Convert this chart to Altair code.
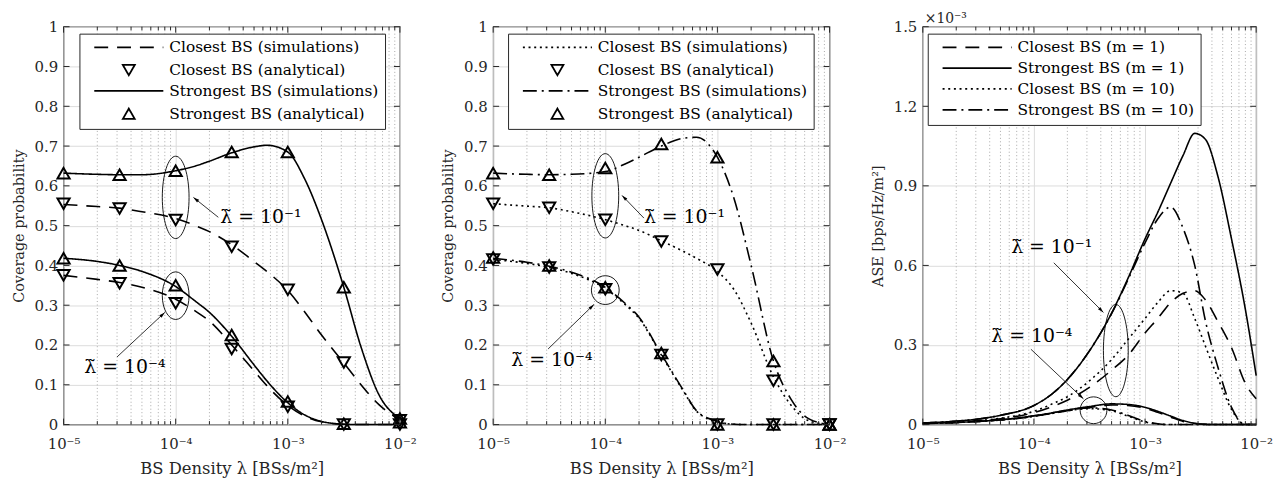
import math
import altair as alt
import pandas as pd

FONT = "DejaVu Serif"
INK = "#262626"
W12, W3, H = 339, 336, 401

# ---------------- axes ----------------
X_TICKS = [1e-5, 1e-4, 1e-3, 1e-2]
X_MINOR = [2e-5, 3e-5, 4e-5, 5e-5, 6e-5, 7e-5, 8e-5, 9e-5,
           2e-4, 3e-4, 4e-4, 5e-4, 6e-4, 7e-4, 8e-4, 9e-4,
           2e-3, 3e-3, 4e-3, 5e-3, 6e-3, 7e-3, 8e-3, 9e-3]
Y12_TICKS = [0, 0.1, 0.2, 0.3, 0.4, 0.5, 0.6, 0.7, 0.8, 0.9, 1.0]
Y3_TICKS = [0, 0.3, 0.6, 0.9, 1.2, 1.5]

# ---------------- panel 1 & 2 data (coverage probability) ----------------
X_SIM = [1e-5, 2e-5, 3.16e-5, 5e-5, 1e-4, 1.5e-4, 2e-4, 3.16e-4, 5e-4, 6.5e-4,
         1e-3, 1.4e-3, 2e-3, 3.16e-3, 4.5e-3, 6.5e-3, 1e-2]
X_MARK = [1e-5, 3.16e-5, 1e-4, 3.16e-4, 1e-3, 3.16e-3, 1e-2]

P1_SS_HI_SIM = [.632, .629, .628, .628, .638, .650, .662, .683, .698, .702, .685, .62, .515, .345, .195, .075, .015]
P1_CS_HI_SIM = [.553, .548, .544, .535, .518, .50, .485, .452, .41, .385, .337, .285, .225, .155, .10, .05, .012]
P1_SS_LO_SIM = [.418, .41, .40, .385, .347, .31, .282, .222, .15, .11, .055, .025, .008, .001, 0, 0, 0]
P1_CS_LO_SIM = [.375, .365, .357, .345, .315, .285, .26, .20, .135, .098, .048, .022, .007, .001, 0, 0, 0]
P1_SS_HI_AN = [.632, .628, .638, .685, .685, .345, .015]
P1_CS_HI_AN = [.555, .543, .514, .447, .339, .156, .011]
P1_SS_LO_AN = [.418, .400, .350, .225, .058, .002, .006]
P1_CS_LO_AN = [.375, .355, .305, .190, .045, .000, .000]

P2_SS_HI_SIM = [.632, .629, .628, .629, .636, .655, .672, .70, .72, .722, .672, .57, .40, .16, .065, .015, 0]
P2_CS_HI_SIM = [.555, .549, .545, .535, .515, .50, .488, .462, .435, .418, .385, .34, .255, .12, .05, .01, 0]
P2_SS_LO_SIM = [.418, .408, .398, .383, .345, .305, .27, .177, .085, .035, .008, .001, 0, 0, 0, 0, 0]
P2_CS_LO_SIM = [.415, .405, .395, .38, .342, .302, .267, .175, .083, .034, .007, .001, 0, 0, 0, 0, 0]
P2_SS_HI_AN = [.632, .628, .645, .705, .672, .16, .0]
P2_CS_HI_AN = [.555, .545, .515, .46, .39, .11, .0]
P2_SS_LO_AN = [.42, .40, .345, .18, .0, .0, .0]
P2_CS_LO_AN = [.415, .395, .34, .175, .0, .0, .0]

# ---------------- panel 3 data (ASE, x 1e-3) ----------------
X3 = [1e-5, 2e-5, 3.16e-5, 5e-5, 1e-4, 1.5e-4, 2e-4, 3.16e-4, 5e-4, 7e-4,
      1e-3, 1.3e-3, 1.7e-3, 2.2e-3, 2.8e-3, 3.5e-3, 4.5e-3, 6e-3, 8e-3, 1e-2]
P3_SS1_HI = [.006, .013, .021, .035, .072, .12, .17, .278, .42, .55, .70, .80, .91, 1.015, 1.098, 1.075, .94, .70, .434, .185]
P3_SS10_HI = [.006, .013, .021, .035, .072, .12, .17, .278, .418, .545, .685, .775, .82, .74, .60, .39, .22, .065, 0, 0]
P3_CS1_HI = [.004, .009, .014, .022, .045, .07, .092, .14, .205, .26, .345, .40, .46, .495, .505, .47, .39, .29, .155, .097]
P3_CS10_HI = [.004, .009, .015, .024, .05, .08, .105, .165, .245, .32, .40, .46, .505, .495, .40, .295, .178, .057, 0, 0]
P3_SS1_LO = [.004, .008, .012, .018, .033, .045, .055, .068, .078, .076, .065, .05, .032, .015, .005, .001, 0, 0, 0, 0]
P3_CS1_LO = [.004, .008, .012, .017, .031, .043, .052, .065, .074, .072, .062, .046, .028, .012, .004, .001, 0, 0, 0, 0]
P3_SS10_LO = [.004, .008, .012, .018, .033, .045, .054, .063, .055, .035, .012, .003, 0, 0, 0, 0, 0, 0, 0, 0]
P3_CS10_LO = [.004, .008, .012, .017, .031, .043, .052, .060, .052, .032, .010, .002, 0, 0, 0, 0, 0, 0, 0, 0]

# ---------------- legends ----------------
LEG12 = ["Closest BS (simulations)", "Closest BS (analytical)",
         "Strongest BS (simulations)", "Strongest BS (analytical)"]
LEG3 = ["Closest BS (m = 1)", "Strongest BS (m = 1)",
        "Closest BS (m = 10)", "Strongest BS (m = 10)"]
DASHED, SOLID, DOTTED, DASHDOT = [14, 9], [1, 0], [2, 3.7], [14, 5, 2, 5]
LINE_PATH = "M-5.8,0L5.8,0"

# ---------------- annotations ----------------
LAB_HI, LAB_LO = "λ̃ = 10⁻¹", "λ̃ = 10⁻⁴"
P1_TEXT = {"x": [2.5e-4, 1.53e-5], "y": [.521, .145], "t": [LAB_HI, LAB_LO]}
P2_TEXT = {"x": [2.21e-4, 1.45e-5], "y": [.521, .162], "t": [LAB_HI, LAB_LO]}
P3_TEXT = {"x": [6.24e-5, 4.13e-5], "y": [.670, .333], "t": [LAB_HI, LAB_LO]}
P1_ARROW = {"x1": [2.40e-4, 3.0e-5], "y1": [.521, .170], "x2": [1.44e-4, 8.0e-5], "y2": [.571, .282]}
P2_ARROW = {"x1": [2.21e-4, 3.09e-5], "y1": [.519, .190], "x2": [1.41e-4, 7.93e-5], "y2": [.576, .302]}
P3_ARROW = {"x1": [1.51e-4, 9.4e-5], "y1": [.610, .284], "x2": [4.22e-4, 2.79e-4], "y2": [.423, .097]}
# ellipse centre x, centre y, width/height ratio, height in px
P1_ELL = [(1e-4, .571, 27 / 83, 83), (1e-4, .324, 27 / 48, 48)]
P2_ELL = [(1e-4, .575, 27 / 85, 85), (1e-4, .338, 28 / 29, 29)]
P3_ELL = [(5.46e-4, .279, 25 / 93, 93), (3.44e-4, .054, 1.0, 27)]

ARROW_HEAD = "M0,0L-0.6,2.2L0.6,2.2Z"


def x_label_expr():
    return ("datum.value < 3e-5 ? '10⁻⁵' : datum.value < 3e-4 ? '10⁻⁴' : "
            "datum.value < 3e-3 ? '10⁻³' : '10⁻²'")


def long_lines(x, curves):
    rows = []
    for series, group, ys in curves:
        for xv, yv in zip(x, ys):
            rows.append({"x": xv, "y": yv, "series": series, "group": group})
    return pd.DataFrame(rows)


def make_panel(W, ymax, yticks, ytitle, lines_df, points_df, domain, dash_range,
               shape_range, legend_x, texts, arrows, ellipses, exp_label=False):
    xs = alt.Scale(type="log", domain=[1e-5, 1e-2], nice=False)
    ys = alt.Scale(domain=[0, ymax], nice=False, zero=False)
    xaxis = alt.Axis(values=X_TICKS, labelExpr=x_label_expr(), title="BS Density λ [BSs/m²]",
                     grid=True, labelFlush=False, labelOverlap=False, labelPadding=12,
                     titlePadding=9, titleFontSize=16.5)
    yaxis = alt.Axis(values=yticks, format="~g", title=ytitle, grid=True,
                     labelPadding=6, titlePadding=8, labelFlush=False, labelOverlap=False,
                     titleFontSize=14.5)
    legend_kw = dict(orient="none", legendX=legend_x, legendY=7, title=None,
                     strokeColor=INK, fillColor="white", padding=6,
                     labelFont=FONT, labelFontSize=15.5, labelColor="black", labelLimit=400,
                     rowPadding=4, symbolSize=144, symbolStrokeWidth=1.8,
                     symbolStrokeColor="black", symbolOffset=36, labelOffset=33)
    if shape_range is None:
        legend_kw["symbolType"] = LINE_PATH

    def X(field="x"):
        return alt.X(f"{field}:Q", scale=xs, axis=xaxis)

    def Y(field="y"):
        return alt.Y(f"{field}:Q", scale=ys, axis=yaxis)

    layers = []
    # minor dotted grid
    layers.append(alt.Chart(pd.DataFrame({"x": X_MINOR})).mark_rule(
        color="#a8a8a8", strokeDash=[1, 2.5], strokeWidth=1).encode(
        x=X(), y=alt.value(0), y2=alt.value(H)))
    # curves
    layers.append(alt.Chart(lines_df).mark_line(
        color="black", strokeWidth=1.6, interpolate="monotone").encode(
        x=X(), y=Y(),
        strokeDash=alt.StrokeDash("series:N", scale=alt.Scale(domain=domain, range=dash_range),
                                  legend=alt.Legend(**legend_kw)),
        detail="group:N"))
    if points_df is not None:
        layers.append(alt.Chart(points_df).mark_point(
            filled=False, color="black", strokeWidth=2, size=150, opacity=1).encode(
            x=X(), y=Y(),
            shape=alt.Shape("series:N", scale=alt.Scale(domain=domain, range=shape_range),
                            legend=alt.Legend(**legend_kw))))
    # ellipses
    for cx, cy, r, h in ellipses:
        path = f"M0,-1A{r:.3f},1 0 1,1 0,1A{r:.3f},1 0 1,1 0,-1Z"
        layers.append(alt.Chart(pd.DataFrame({"x": [cx], "y": [cy]})).mark_point(
            shape=path, size=h * h, color="black", strokeWidth=0.9, filled=False, opacity=1).encode(
            x=X(), y=Y()))
    # arrows
    adf = pd.DataFrame(arrows)

    def px(v):
        return (math.log10(v) + 5) / 3 * W

    def py(v):
        return (1 - v / ymax) * H

    adf["ang"] = [
        (math.degrees(math.atan2(px(b) - px(a), -(py(d) - py(c)))) + 360) % 360
        for a, b, c, d in zip(adf.x1, adf.x2, adf.y1, adf.y2)]
    layers.append(alt.Chart(adf).mark_rule(color="black", strokeWidth=0.8).encode(
        x=X("x1"), x2="x2:Q", y=Y("y1"), y2="y2:Q"))
    layers.append(alt.Chart(adf).mark_point(
        shape=ARROW_HEAD, size=30, filled=True, color="black", opacity=1).encode(
        x=X("x2"), y=Y("y2"), angle=alt.Angle("ang:Q", scale=None)))
    # labels
    layers.append(alt.Chart(pd.DataFrame(texts)).mark_text(
        font=FONT, fontSize=19, align="left", baseline="middle", color="black").encode(
        x=X(), y=Y(), text="t:N"))
    if exp_label:
        layers.append(alt.Chart(pd.DataFrame({"x": [1e-5], "y": [ymax], "t": ["×10⁻³"]})).mark_text(
            font=FONT, fontSize=14, align="left", baseline="bottom", dx=2, dy=-1, color=INK).encode(
            x=X(), y=Y(), text="t:N"))
    # inward ticks
    tick_x = pd.DataFrame({"x": X_TICKS})
    tick_xm = pd.DataFrame({"x": X_MINOR})
    tick_y = pd.DataFrame({"y": yticks})
    for df, ln in ((tick_x, 6), (tick_xm, 3.5)):
        layers.append(alt.Chart(df).mark_rule(color=INK, strokeWidth=1).encode(
            x=X(), y=alt.value(H), y2=alt.value(H - ln)))
        layers.append(alt.Chart(df).mark_rule(color=INK, strokeWidth=1).encode(
            x=X(), y=alt.value(0), y2=alt.value(ln)))
    layers.append(alt.Chart(tick_y).mark_rule(color=INK, strokeWidth=1).encode(
        y=Y(), x=alt.value(0), x2=alt.value(6)))
    layers.append(alt.Chart(tick_y).mark_rule(color=INK, strokeWidth=1).encode(
        y=Y(), x=alt.value(W), x2=alt.value(W - 6)))

    return alt.layer(*layers).properties(width=W, height=H)


p1_lines = long_lines(X_SIM, [
    (LEG12[0], "c_hi", P1_CS_HI_SIM), (LEG12[0], "c_lo", P1_CS_LO_SIM),
    (LEG12[2], "s_hi", P1_SS_HI_SIM), (LEG12[2], "s_lo", P1_SS_LO_SIM)])
p1_pts = long_lines(X_MARK, [
    (LEG12[1], "c_hi", P1_CS_HI_AN), (LEG12[1], "c_lo", P1_CS_LO_AN),
    (LEG12[3], "s_hi", P1_SS_HI_AN), (LEG12[3], "s_lo", P1_SS_LO_AN)])
p2_lines = long_lines(X_SIM, [
    (LEG12[0], "c_hi", P2_CS_HI_SIM), (LEG12[0], "c_lo", P2_CS_LO_SIM),
    (LEG12[2], "s_hi", P2_SS_HI_SIM), (LEG12[2], "s_lo", P2_SS_LO_SIM)])
p2_pts = long_lines(X_MARK, [
    (LEG12[1], "c_hi", P2_CS_HI_AN), (LEG12[1], "c_lo", P2_CS_LO_AN),
    (LEG12[3], "s_hi", P2_SS_HI_AN), (LEG12[3], "s_lo", P2_SS_LO_AN)])
p3_lines = long_lines(X3, [
    (LEG3[0], "c1_hi", P3_CS1_HI), (LEG3[0], "c1_lo", P3_CS1_LO),
    (LEG3[1], "s1_hi", P3_SS1_HI), (LEG3[1], "s1_lo", P3_SS1_LO),
    (LEG3[2], "c10_hi", P3_CS10_HI), (LEG3[2], "c10_lo", P3_CS10_LO),
    (LEG3[3], "s10_hi", P3_SS10_HI), (LEG3[3], "s10_lo", P3_SS10_LO)])

SHAPES12 = [LINE_PATH, "triangle-down", LINE_PATH, "triangle-up"]

p1 = make_panel(W12, 1.0, Y12_TICKS, "Coverage probability", p1_lines, p1_pts, LEG12,
                [DASHED, SOLID, SOLID, SOLID], SHAPES12, 16, P1_TEXT, P1_ARROW, P1_ELL)
p2 = make_panel(W12, 1.0, Y12_TICKS, "Coverage probability", p2_lines, p2_pts, LEG12,
                [DOTTED, SOLID, DASHDOT, SOLID], SHAPES12, 15, P2_TEXT, P2_ARROW, P2_ELL)
p3 = make_panel(W3, 1.5, Y3_TICKS, "ASE [bps/Hz/m²]", p3_lines, None, LEG3,
                [DASHED, SOLID, DOTTED, DASHDOT], None, 5, P3_TEXT, P3_ARROW, P3_ELL,
                exp_label=True)

chart = alt.hconcat(p1, p2, p3, spacing=22).resolve_scale(
    x="independent", y="independent", strokeDash="independent", shape="independent"
).resolve_legend(strokeDash="independent", shape="independent").configure(
    font=FONT, padding={"left": 2, "top": 1, "right": 2, "bottom": 0}
).configure_axis(
    labelFont=FONT, titleFont=FONT, labelFontSize=15, titleFontSize=15,
    labelColor=INK, titleColor=INK, titleFontWeight="normal",
    gridColor="#dcdcdc", gridWidth=1, ticks=False, domain=False
).configure_view(stroke=INK, strokeWidth=1.2)

chart.save("out.html", embed_options={"renderer": "svg", "actions": False})
